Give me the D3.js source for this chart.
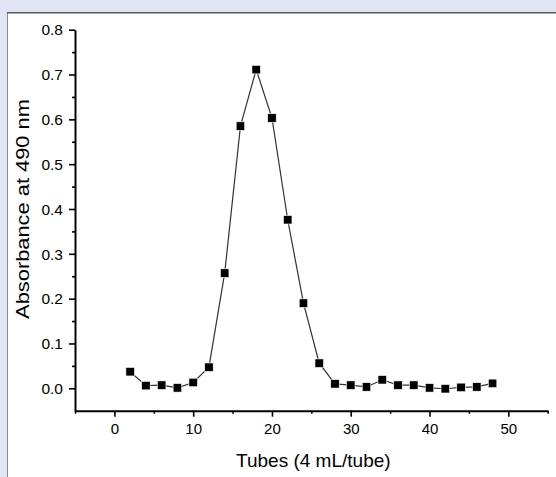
<!DOCTYPE html>
<html>
<head>
<meta charset="utf-8">
<script src="https://cdn.jsdelivr.net/npm/d3@7"></script>
<style>
  html, body { margin: 0; padding: 0; background: #e1e4f2; }
  svg { display: block; }
  text { font-family: "Liberation Sans", Arial, sans-serif; fill: #000; }
</style>
</head>
<body>
<svg id="chart" width="556" height="477"></svg>
<script>
// Elution profile: absorbance at 490 nm for each collected tube
const tubes = [2, 4, 6, 8, 10, 12, 14, 16, 18, 20, 22, 24, 26, 28, 30, 32, 34, 36, 38, 40, 42, 44, 46, 48];
const absorbance = [0.037, 0.006, 0.007, 0.001, 0.013, 0.047, 0.257, 0.585, 0.711, 0.603, 0.376, 0.190, 0.056, 0.010, 0.007, 0.003, 0.019, 0.007, 0.007, 0.001, -0.001, 0.002, 0.003, 0.011];

const xTicks = [0, 10, 20, 30, 40, 50];
const xMinorTicks = [-5, 5, 15, 25, 35, 45, 55];
const yTicks = [0.0, 0.1, 0.2, 0.3, 0.4, 0.5, 0.6, 0.7, 0.8];
const yMinorTicks = [0.05, 0.15, 0.25, 0.35, 0.45, 0.55, 0.65, 0.75];

const xTitle = "Tubes (4 mL/tube)";
const yTitle = "Absorbance at 490 nm";

const svg = d3.select("#chart");

// white panel with its frame
svg.append("rect").attr("x", 7).attr("y", 12).attr("width", 549).attr("height", 465).attr("fill", "#fff");
svg.append("line").attr("x1", 7.5).attr("x2", 7.5).attr("y1", 12).attr("y2", 477).attr("stroke", "#8a8a8a").attr("stroke-width", 1);
svg.append("line").attr("x1", 7).attr("x2", 556).attr("y1", 12.8).attr("y2", 12.8).attr("stroke", "#5a5a5a").attr("stroke-width", 1.6);

const x = d3.scaleLinear().domain([-5, 55]).range([75, 547.7]);
const y = d3.scaleLinear().domain([-0.05, 0.8]).range([410.7, 29.7]);

// y axis
const gy = svg.append("g").attr("transform", `translate(${x(-5)},0)`);
gy.call(d3.axisLeft(y).tickValues(yTicks).tickFormat(d3.format(".1f")).tickSize(6).tickSizeOuter(0));
svg.append("g").attr("transform", `translate(${x(-5)},0)`)
  .call(d3.axisLeft(y).tickValues(yMinorTicks).tickFormat("").tickSize(3).tickSizeOuter(0))
  .select(".domain").remove();

// x axis
const gx = svg.append("g").attr("transform", `translate(0,${y(-0.05)})`);
gx.call(d3.axisBottom(x).tickValues(xTicks).tickFormat(d3.format("d")).tickSize(6).tickSizeOuter(0));
svg.append("g").attr("transform", `translate(0,${y(-0.05)})`)
  .call(d3.axisBottom(x).tickValues(xMinorTicks).tickFormat("").tickSize(3).tickSizeOuter(0))
  .select(".domain").remove();

svg.selectAll(".domain").attr("stroke", "#000").attr("stroke-width", 2);
svg.selectAll(".tick line").attr("stroke", "#000").attr("stroke-width", 1.6);
gy.selectAll(".tick text").attr("font-size", 15.5).attr("x", -12).attr("dy", "0.34em");
gx.selectAll(".tick text").attr("font-size", 15).attr("y", 13).attr("dy", "0.71em");
svg.selectAll(".tick text").attr("font-family", "Liberation Sans, Arial, sans-serif").attr("fill", "#000");

// axis titles
svg.append("text")
  .attr("x", (x(-5) + x(55)) / 2 + 2).attr("y", 467)
  .attr("text-anchor", "middle").attr("font-size", 19)
  .text(xTitle);
svg.append("text")
  .attr("transform", `translate(28.5,209) rotate(-90) scale(1.15,1)`)
  .attr("text-anchor", "middle").attr("font-size", 19)
  .text(yTitle);

// connecting line and square markers
const pts = tubes.map((t, i) => [t, absorbance[i]]);
svg.append("path")
  .datum(pts)
  .attr("fill", "none").attr("stroke", "#333").attr("stroke-width", 1.2)
  .attr("d", d3.line().x(d => x(d[0])).y(d => y(d[1])));

const s = 8.5;
svg.append("g").selectAll("rect")
  .data(pts)
  .join("rect")
  .attr("x", d => x(d[0]) - s / 2).attr("y", d => y(d[1]) - s / 2)
  .attr("width", s).attr("height", s)
  .attr("fill", "#000").attr("stroke", "#fff").attr("stroke-width", 0.6);
</script>
</body>
</html>
